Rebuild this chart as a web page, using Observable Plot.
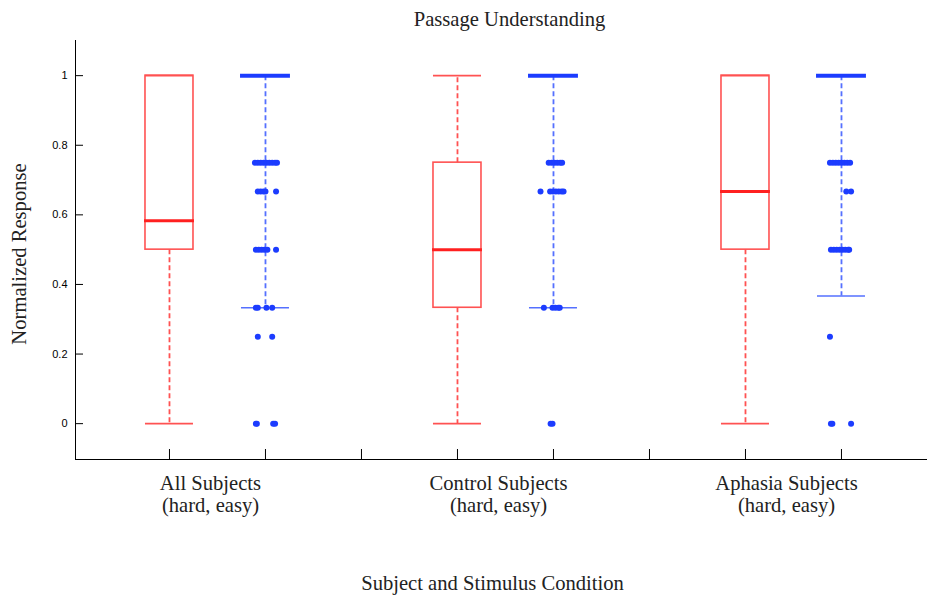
<!DOCTYPE html>
<html>
<head>
<meta charset="utf-8">
<script src="https://cdn.jsdelivr.net/npm/d3@7"></script>
<script src="https://cdn.jsdelivr.net/npm/@observablehq/plot@0.6"></script>
<style>
  html, body { margin: 0; padding: 0; background: #fff; }
  #chart { width: 927px; height: 598px; }
</style>
</head>
<body>
<div id="chart"></div>
<script>
// ---------- data ----------
const groups = ["All Subjects", "Control Subjects", "Aphasia Subjects"];
const groupSub = ["(hard, easy)", "(hard, easy)", "(hard, easy)"];
const hardPos = [1, 4, 7];
const easyPos = [2, 5, 8];
const xTicks = [1, 2, 3, 4, 5, 6, 7, 8];
const yTicks = [0, 0.2, 0.4, 0.6, 0.8, 1];

// hard condition (red) box stats
const hardQ1 = [0.5, 0.333, 0.5];
const hardMed = [0.583, 0.5, 0.667];
const hardQ3 = [1, 0.75, 1];
const hardLow = [0, 0, 0];
const hardHigh = [1, 1, 1];

// easy condition (blue) box stats (box collapsed at 1)
const easyMed = [1, 1, 1];
const easyLow = [0.333, 0.333, 0.367];

// easy condition outliers: [value, jitter]
const easyOutAll = [
  [0.75, -0.11], [0.75, -0.08], [0.75, -0.05], [0.75, -0.02], [0.75, 0.01], [0.75, 0.04], [0.75, 0.07], [0.75, 0.10], [0.75, 0.12],
  [0.667, -0.08], [0.667, -0.05], [0.667, -0.02], [0.667, 0.0], [0.667, 0.11],
  [0.5, -0.10], [0.5, -0.07], [0.5, -0.04], [0.5, -0.01], [0.5, 0.02], [0.5, 0.11],
  [0.333, -0.10], [0.333, -0.08], [0.333, 0.01], [0.333, 0.07],
  [0.25, -0.08], [0.25, 0.07],
  [0, -0.10], [0, -0.09], [0, 0.08], [0, 0.10]
];
const easyOutControl = [
  [0.75, -0.05], [0.75, -0.02], [0.75, 0.01], [0.75, 0.04], [0.75, 0.07], [0.75, 0.09],
  [0.667, -0.135], [0.667, -0.035], [0.667, -0.005], [0.667, 0.025], [0.667, 0.055], [0.667, 0.085], [0.667, 0.105],
  [0.333, -0.10], [0.333, -0.01], [0.333, 0.02], [0.333, 0.05], [0.333, 0.065],
  [0, -0.03], [0, -0.01]
];
const easyOutAphasia = [
  [0.75, -0.12], [0.75, -0.09], [0.75, -0.06], [0.75, -0.03], [0.75, 0.0], [0.75, 0.03], [0.75, 0.06], [0.75, 0.09],
  [0.667, 0.05], [0.667, 0.10],
  [0.5, -0.11], [0.5, -0.08], [0.5, -0.05], [0.5, -0.02], [0.5, 0.01], [0.5, 0.04], [0.5, 0.07], [0.5, 0.08],
  [0.25, -0.12],
  [0, -0.11], [0, -0.095], [0, 0.10]
];

// ---------- tables ----------
const RED = "#ff2020";
const RED_LINE = "#ff5252";
const BLUE = "#1c3cff";
const BLUE_LINE = "#5570ff";
const HW = 0.25;

const hard = groups.map((g, i) => ({x: hardPos[i], q1: hardQ1[i], med: hardMed[i], q3: hardQ3[i], lo: hardLow[i], hi: hardHigh[i]}));
const easy = groups.map((g, i) => ({x: easyPos[i], med: easyMed[i], lo: easyLow[i]}));
const outSets = [easyOutAll, easyOutControl, easyOutAphasia];
const outliers = outSets.flatMap((s, i) => s.map(([v, j]) => ({x: easyPos[i] + j, v})));
const labels = groups.map((g, i) => ({x: (hardPos[i] + easyPos[i]) / 2, text: g + "\n" + groupSub[i]}));

const serif = "Liberation Serif";
const FS = 20.6;

const chart = Plot.plot({
  width: 927,
  height: 598,
  marginLeft: 75,
  marginRight: 0,
  marginTop: 40,
  marginBottom: 139,
  style: {fontFamily: "Liberation Sans", fontSize: "11px", background: "#fff", color: "#000"},
  x: {domain: [0.021, 8.896]},
  y: {domain: [-0.103, 1.101]},
  marks: [
    // axis lines
    Plot.ruleX([0.021], {stroke: "#000"}),
    Plot.ruleY([-0.103], {stroke: "#000"}),
    Plot.axisY({ticks: yTicks, tickSize: -8, tickPadding: 16, label: null, tickFormat: d => String(d), fontSize: 11}),
    Plot.axisX({ticks: xTicks, tickSize: -10, label: null, tickFormat: () => ""}),

    // hard (red)
    Plot.ruleX(hard, {x: "x", y1: "q1", y2: "lo", stroke: RED_LINE, strokeWidth: 1.8, strokeDasharray: "5,3"}),
    Plot.ruleX(hard.filter(d => d.hi > d.q3), {x: "x", y1: "q3", y2: "hi", stroke: RED_LINE, strokeWidth: 1.8, strokeDasharray: "5,3"}),
    Plot.ruleY(hard, {y: "lo", x1: d => d.x - HW, x2: d => d.x + HW, stroke: RED_LINE, strokeWidth: 1.6}),
    Plot.ruleY(hard, {y: "hi", x1: d => d.x - HW, x2: d => d.x + HW, stroke: RED_LINE, strokeWidth: 1.6}),
    Plot.rect(hard, {x1: d => d.x - HW, x2: d => d.x + HW, y1: "q1", y2: "q3", fill: "none", stroke: RED_LINE, strokeWidth: 1.6}),
    Plot.ruleY(hard, {y: "med", x1: d => d.x - HW - 0.01, x2: d => d.x + HW + 0.01, stroke: RED, strokeWidth: 3}),

    // easy (blue)
    Plot.ruleX(easy, {x: "x", y1: "med", y2: "lo", stroke: BLUE_LINE, strokeWidth: 1.8, strokeDasharray: "5,3"}),
    Plot.ruleY(easy, {y: "lo", x1: d => d.x - HW, x2: d => d.x + HW, stroke: BLUE_LINE, strokeWidth: 1.6}),
    Plot.ruleY(easy, {y: "med", x1: d => d.x - HW - 0.01, x2: d => d.x + HW + 0.01, stroke: BLUE, strokeWidth: 4}),
    Plot.dot(outliers, {x: "x", y: "v", r: 3, fill: BLUE, stroke: null}),

    // text
    Plot.text(labels, {x: "x", text: "text", frameAnchor: "bottom", lineAnchor: "top", dy: 14, dx: -7, fontFamily: serif, fontSize: FS, lineHeight: 1.1, fill: "#222"}),
    Plot.text(["Passage Understanding"], {frameAnchor: "top", lineAnchor: "bottom", dy: -15, dx: 8, fontFamily: serif, fontSize: FS, fill: "#222"}),
    Plot.text(["Subject and Stimulus Condition"], {frameAnchor: "bottom", lineAnchor: "bottom", dy: 130, dx: -9, fontFamily: serif, fontSize: FS, fill: "#222"}),
    Plot.text(["Normalized Response"], {frameAnchor: "left", textAnchor: "middle", dx: -56, dy: 4, rotate: -90, fontFamily: serif, fontSize: FS, fill: "#222"})
  ]
});
document.getElementById("chart").appendChild(chart);
</script>
</body>
</html>
